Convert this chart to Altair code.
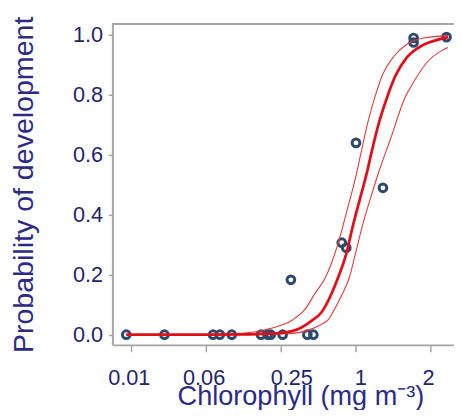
import json
import altair as alt
import pandas as pd

# ---------------- data ----------------
# x positions are on the chart's evenly spaced chlorophyll axis (tick index units)
tick_pos = [0, 1, 2, 3, 4]
tick_labels = ["0.01", "0.06", "0.25", "1", "2"]

pt_x = [-0.06, 0.45, 1.10, 1.19, 1.35, 1.74, 1.83, 1.87, 2.03, 2.36, 2.44,
        2.14, 2.82, 2.88, 3.01, 3.37, 3.78, 3.78, 4.22]
pt_y = [0.0, 0.0, 0.0, 0.0, 0.0, 0.0, 0.0, 0.0, 0.0, 0.0, 0.0,
        0.183, 0.307, 0.29, 0.64, 0.49, 0.99, 0.975, 0.993]

fit_x = [-0.06, 1.0, 1.60, 1.94, 2.21, 2.42, 2.55, 2.68, 2.77, 2.88, 2.97,
         3.07, 3.16, 3.21, 3.32, 3.43, 3.54, 3.69, 3.91, 4.13, 4.24]
fit_p = [0.0, 0.0, 0.001, 0.004, 0.016, 0.047, 0.075, 0.135, 0.19, 0.27, 0.365,
         0.46, 0.545, 0.60, 0.71, 0.795, 0.865, 0.925, 0.967, 0.986, 0.993]

upper_x = [-0.06, 1.0, 1.37, 1.67, 1.89, 2.16, 2.33, 2.46, 2.60, 2.72, 2.80,
           2.88, 3.01, 3.08, 3.17, 3.26, 3.36, 3.52, 3.69, 3.91, 4.24]
upper_p = [0.0, 0.0, 0.003, 0.01, 0.022, 0.049, 0.085, 0.137, 0.19, 0.265, 0.33,
           0.405, 0.53, 0.61, 0.71, 0.79, 0.865, 0.93, 0.969, 0.99, 0.998]

lower_x = [-0.06, 1.0, 2.11, 2.38, 2.55, 2.64, 2.73, 2.86, 2.92, 3.00, 3.10,
           3.21, 3.32, 3.47, 3.67, 3.78, 3.96, 4.15, 4.24]
lower_p = [0.0, 0.0, 0.003, 0.016, 0.035, 0.05, 0.088, 0.153, 0.19, 0.268, 0.367,
           0.46, 0.547, 0.652, 0.794, 0.843, 0.909, 0.947, 0.958]

y_ticks = [0.0, 0.2, 0.4, 0.6, 0.8, 1.0]

# ---------------- tables ----------------
points = pd.DataFrame({"u": pt_x, "p": pt_y})
curves = pd.concat([
    pd.DataFrame({"u": fit_x, "p": fit_p, "band": "fit"}),
    pd.DataFrame({"u": upper_x, "p": upper_p, "band": "upper"}),
    pd.DataFrame({"u": lower_x, "p": lower_p, "band": "lower"}),
])

FONT = "Liberation Sans"
NAVY = "#23236e"
TITLE_NAVY = "#2b2b86"
GREY = "#a6a6a6"
W, H = 347, 326
Y_TOP = 1.037

x_scale = alt.Scale(domain=[-0.246, 4.32], nice=False, zero=False)
y_scale = alt.Scale(domain=[-0.034, Y_TOP], nice=False, zero=False)

label_expr = json.dumps(tick_labels) + "[datum.value]"

x_axis = alt.Axis(
    values=tick_pos, labelExpr=label_expr, grid=False,
    tickSize=7, tickColor=GREY, tickWidth=1.5,
    domainColor=GREY, domainWidth=2,
    labelFont=FONT, labelFontSize=22, labelColor=NAVY,
    labelBaseline="alphabetic", labelPadding=33, labelFlush=False, labelOverlap=False,
    labelOffset={"expr": "datum.value == 2 ? 11 : (datum.value == 3 ? 5 : -2)"},
    title="Chlorophyll (mg m⁻³)", titleFont=FONT, titleFontSize=27.5,
    titleFontWeight="normal", titleColor=TITLE_NAVY,
    titleX=191, titleY=61, titleBaseline="alphabetic", titleAlign="center",
)
y_axis = alt.Axis(
    values=y_ticks, format=".1f", grid=False,
    tickSize=4, tickColor=GREY, tickWidth=1.5,
    domainColor=GREY, domainWidth=2,
    labelFont=FONT, labelFontSize=22, labelColor=NAVY, labelPadding=6,
    title="Probability of development", titleFont=FONT, titleFontSize=29,
    titleFontWeight="normal", titleColor=TITLE_NAVY,
    titleX=-81, titleY=163, titleBaseline="alphabetic", titleAngle=270,
)

pts = alt.Chart(points).mark_point(
    shape="circle", filled=False, size=62, strokeWidth=3, color="#2c4a70", opacity=1
).encode(
    x=alt.X("u:Q", scale=x_scale, axis=x_axis),
    y=alt.Y("p:Q", scale=y_scale, axis=y_axis),
)

# top edge of the frame (the right edge is cut off in the reference)
frame_top = alt.Chart(points).mark_rule(color=GREY, strokeWidth=2).encode(
    y=alt.datum(Y_TOP),
    x=alt.value(0),
    x2=alt.value(W),
)

bands = alt.Chart(curves).transform_filter("datum.band != 'fit'").mark_line(
    color="#e23a3a", strokeWidth=1.1, interpolate="monotone"
).encode(
    x=alt.X("u:Q", scale=x_scale),
    y=alt.Y("p:Q", scale=y_scale),
    detail="band:N",
    order="u:Q",
)

fit = alt.Chart(curves).transform_filter("datum.band == 'fit'").mark_line(
    color="#e0101a", strokeWidth=2.8, interpolate="monotone"
).encode(
    x=alt.X("u:Q", scale=x_scale),
    y=alt.Y("p:Q", scale=y_scale),
    order="u:Q",
)

chart = alt.layer(pts, frame_top, bands, fit).properties(
    width=W, height=H,
    autosize=alt.AutoSizeParams(type="none"),
    padding={"left": 106, "top": 13, "right": 0, "bottom": 63},
).configure_view(stroke=None).configure(background="white")

chart.save("out.html", embed_options={"renderer": "svg", "actions": False})
